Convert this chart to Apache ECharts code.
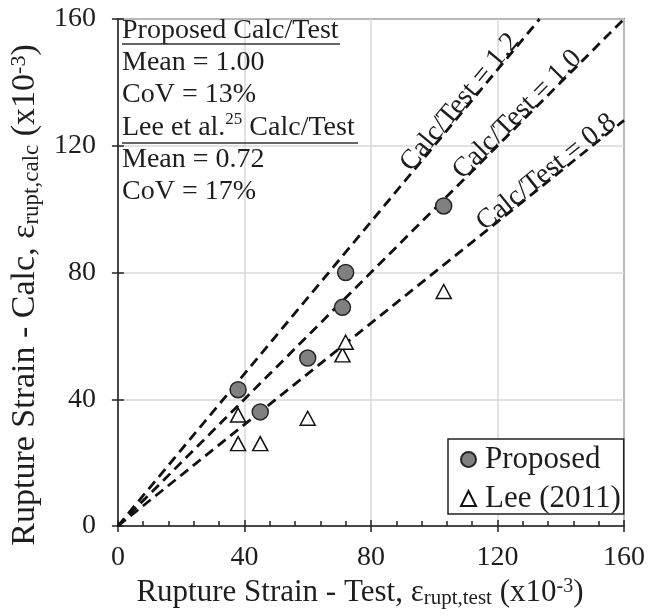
<!DOCTYPE html>
<html><head><meta charset="utf-8">
<script src="https://cdn.jsdelivr.net/npm/echarts@6/dist/echarts.min.js"></script>
<style>html,body{margin:0;padding:0;background:#fff}#c{width:648px;height:616px}</style>
</head><body><div id="c"></div>
<script>
// ---- data ----
const proposedTest = [38, 45, 60, 71, 72, 103];
const proposedCalc = [43, 36, 53, 69, 80, 101];
const leeTest = [38, 38, 45, 60, 71, 72, 103];
const leeCalc = [35, 26, 26, 34, 54, 58, 74];
const ratios = [1.2, 1.0, 0.8];
const ratioLabels = ['Calc/Test = 1.2', 'Calc/Test = 1.0', 'Calc/Test = 0.8'];
const axisMin = 0, axisMax = 160, axisStep = 40;
const seriesNames = ['Proposed', 'Lee (2011)'];
const statsLines = ['Proposed Calc/Test', 'Mean = 1.00', 'CoV = 13%', '{a|Lee et al.}{p|25}{a| Calc/Test}', 'Mean = 0.72', 'CoV = 17%'];

// ---- chart ----
const FONT = 'Liberation Serif';
const TXT = '#1e1e1e';
const chart = echarts.init(document.getElementById('c'), null, {renderer: 'canvas'});

const labelAlong = [30, 58, 8];
const refPairs = ratios.map((r, i) => {
  const xe = Math.min(axisMax, axisMax / r);
  return [
    {coord: [0, 0], label: {show: true, position: 'insideEndTop', formatter: ratioLabels[i],
      distance: [labelAlong[i], -6], fontFamily: FONT, fontSize: 28, color: TXT}},
    {coord: [xe, xe * r]}
  ];
});

const pairs = (xs, ys) => xs.map((x, i) => [x, ys[i]]);

const xNameRich = {
  t: {fontFamily: FONT, fontSize: 31, color: TXT, lineHeight: 32},
  s: {fontFamily: FONT, fontSize: 21, color: TXT, lineHeight: 10, verticalAlign: 'bottom'},
  p: {fontFamily: FONT, fontSize: 20, color: TXT, lineHeight: 16, verticalAlign: 'top'}
};
const yNameRich = {
  t: {fontFamily: FONT, fontSize: 34, color: TXT, lineHeight: 35},
  s: {fontFamily: FONT, fontSize: 23, color: TXT, lineHeight: 11, verticalAlign: 'bottom'},
  p: {fontFamily: FONT, fontSize: 22, color: TXT, lineHeight: 17, verticalAlign: 'top'}
};

const baseAxis = {type: 'value', min: axisMin, max: axisMax, interval: axisStep};

const stBase = [42, 74, 106, 137, 171, 203];
const graphics = statsLines.map((t, i) => ({
  type: 'text', left: 122, top: stBase[i] - 25.5, z: 100,
  style: {text: t.charAt(0) === '{' ? t : '{a|' + t + '}', fill: TXT, font: '28px ' + FONT,
    rich: {a: {fontFamily: FONT, fontSize: 28, fill: TXT, color: TXT, lineHeight: 30, verticalAlign: 'bottom'},
           p: {fontFamily: FONT, fontSize: 17, fill: TXT, color: TXT, lineHeight: 30, verticalAlign: 'top'}}}
}));
graphics.push({type: 'line', z: 100, shape: {x1: 122, y1: 44, x2: 340, y2: 44}, style: {stroke: '#333', lineWidth: 1.5}});
graphics.push({type: 'line', z: 100, shape: {x1: 122, y1: 143, x2: 358, y2: 143}, style: {stroke: '#333', lineWidth: 1.5}});

chart.setOption({
  animation: false,
  backgroundColor: '#fff',
  grid: {left: 116, right: 21, top: 19, bottom: 90, show: true, borderColor: '#222', borderWidth: 1.5, containLabel: false},
  xAxis: [
    Object.assign({}, baseAxis, {
      position: 'bottom',
      axisLine: {show: true, onZero: false, lineStyle: {color: '#222', width: 1.5}},
      axisTick: {show: true, length: 6, lineStyle: {color: '#222', width: 1.5}},
      splitLine: {show: true, lineStyle: {color: '#d9d9d9', width: 1.5}},
      axisLabel: {fontFamily: FONT, fontSize: 28, color: TXT, margin: 18},
      name: '{t|Rupture Strain - Test, ε}{s|rupt,test}{t| (x10}{p|-3}{t|)}',
      nameLocation: 'middle', nameGap: 37,
      nameTextStyle: {rich: xNameRich, padding: [0, 22, 0, 0]}
    }),
    Object.assign({}, baseAxis, {
      position: 'bottom',
      axisLine: {show: false},
      axisTick: {show: true, inside: true, length: 6, lineStyle: {color: '#222', width: 1.5}},
      minorTick: {show: true, splitNumber: 5, length: 5, lineStyle: {color: '#222', width: 1.5}},
      splitLine: {show: false},
      axisLabel: {show: false}
    })
  ],
  yAxis: [
    Object.assign({}, baseAxis, {
      position: 'left',
      axisLine: {show: true, onZero: false, lineStyle: {color: '#222', width: 1.5}},
      axisTick: {show: true, length: 6, lineStyle: {color: '#222', width: 1.5}},
      splitLine: {show: true, lineStyle: {color: '#d9d9d9', width: 1.5}},
      axisLabel: {fontFamily: FONT, fontSize: 28, color: TXT, margin: 22},
      name: '{t|Rupture Strain - Calc, ε}{s|rupt,calc}{t| (x10}{p|-3}{t|)}',
      nameLocation: 'middle', nameGap: 70,
      nameTextStyle: {rich: yNameRich, padding: [0, 45, 0, 0]}
    }),
    Object.assign({}, baseAxis, {
      position: 'left',
      axisLine: {show: false},
      axisTick: {show: true, inside: true, length: 6, lineStyle: {color: '#222', width: 1.5}},
      splitLine: {show: false},
      axisLabel: {show: false}
    })
  ],
  legend: {
    data: seriesNames, orient: 'vertical', left: 448, top: 439,
    padding: [5, 3, 0, 12], itemGap: 8, itemWidth: 15, itemHeight: 15,
    borderColor: '#222', borderWidth: 1.5, backgroundColor: '#fff',
    textStyle: {fontFamily: FONT, fontSize: 31, color: TXT, padding: [0, 0, 0, 4]}
  },
  series: [
    {
      name: 'refs', type: 'scatter', data: [], xAxisIndex: 0, yAxisIndex: 0,
      markLine: {silent: true, symbol: ['none', 'none'], animation: false,
        lineStyle: {color: '#111', width: 2.8, type: [10, 6]}, data: refPairs}
    },
    {
      name: seriesNames[0], type: 'scatter', data: pairs(proposedTest, proposedCalc), z: 5,
      symbol: 'circle', symbolSize: 16,
      itemStyle: {color: '#808080', borderColor: '#262626', borderWidth: 1.5, opacity: 1}
    },
    {
      name: seriesNames[1], type: 'scatter', data: pairs(leeTest, leeCalc), z: 5,
      symbol: 'triangle', symbolSize: [15, 14],
      itemStyle: {color: '#ffffff', borderColor: '#111', borderWidth: 1.5, opacity: 1}
    }
  ],
  graphic: graphics
});
</script></body></html>
